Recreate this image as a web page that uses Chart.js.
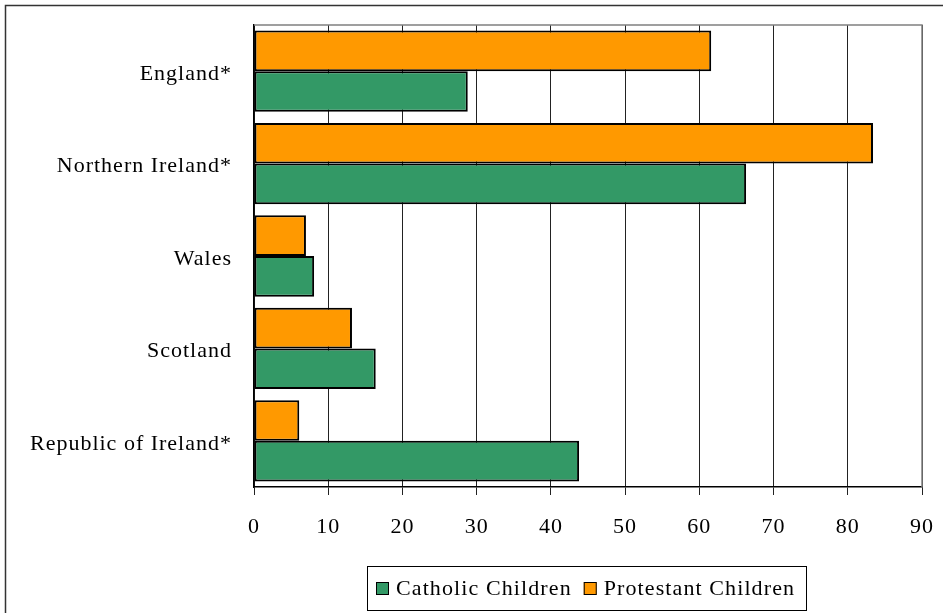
<!DOCTYPE html>
<html>
<head>
<meta charset="utf-8">
<script src="https://cdn.jsdelivr.net/npm/chart.js@4/dist/chart.umd.min.js"></script>
<style>
  html, body { margin: 0; padding: 0; background: #fff; }
  #wrap { width: 943px; height: 613px; position: relative; }
</style>
</head>
<body>
<div id="wrap"><canvas id="chart"></canvas></div>
<script>
// Datos por país (porcentaje)
const paises = ['England*', 'Northern Ireland*', 'Wales', 'Scotland', 'Republic of Ireland*'];
const protestantes = [61.6, 83.4, 7.0, 13.2, 6.1];
const catolicos = [28.8, 66.3, 8.1, 16.4, 43.8];
const ticksX = [0, 10, 20, 30, 40, 50, 60, 70, 80, 90];

const FUENTE = "'Liberation Serif', 'Times New Roman', serif";
const COLORES = { naranja: '#FF9900', verde: '#339966', borde: '#000000' };

// Espaciado de letras tipo Excel (el canvas pierde el estado al redimensionar)
const espaciado = {
    id: 'espaciado',
    beforeUpdate(chart) { chart.ctx.letterSpacing = '1px'; },
    beforeDraw(chart) { chart.ctx.letterSpacing = '1px'; }
};

// Marco exterior, borde superior/derecho del área y leyenda con recuadro
const extras = {
    id: 'extras',
    afterDraw(chart) {
        const ctx = chart.ctx;
        const a = chart.chartArea;
        ctx.save();
        // marco del gráfico
        ctx.strokeStyle = '#333';
        ctx.lineWidth = 1.5;
        ctx.strokeRect(5.5, 5.5, 960, 640);
        // borde gris arriba y derecha del área de trazado
        ctx.strokeStyle = '#808080';
        ctx.lineWidth = 1.5;
        ctx.beginPath();
        ctx.moveTo(a.left, a.top);
        ctx.lineTo(a.right, a.top);
        ctx.lineTo(a.right, a.bottom);
        ctx.stroke();

        // leyenda: Catholic primero, luego Protestant
        const items = [chart.data.datasets[1], chart.data.datasets[0]];
        const lx = 367, ly = 566, lw = 439, lh = 44;
        ctx.strokeStyle = '#000';
        ctx.lineWidth = 1;
        ctx.strokeRect(lx + 0.5, ly + 0.5, lw, lh);
        ctx.font = '22px ' + FUENTE;
        ctx.letterSpacing = '1.1px';
        ctx.textBaseline = 'middle';
        let x = 376;
        const cy = ly + lh / 2 + 1;
        items.forEach(ds => {
            ctx.fillStyle = ds.backgroundColor;
            ctx.fillRect(x, cy - 7, 13, 13);
            ctx.strokeStyle = '#000';
            ctx.strokeRect(x + 0.5, cy - 6.5, 12, 12);
            ctx.fillStyle = '#000';
            ctx.fillText(ds.label, x + 20, cy);
            x += 20 + ctx.measureText(ds.label).width + 12;
        });
        ctx.restore();
    }
};

// Sin relleno automático de las escalas: el área la fija layout.padding
const sinRelleno = s => {
    s.paddingTop = 0; s.paddingBottom = 0;
    s.paddingLeft = 0; s.paddingRight = 0;
};

new Chart(document.getElementById('chart'), {
    type: 'bar',
    data: {
        labels: paises,
        datasets: [
            {
                label: 'Protestant Children',
                data: protestantes,
                backgroundColor: COLORES.naranja,
                borderColor: COLORES.borde,
                borderWidth: 2,
                borderSkipped: false
            },
            {
                label: 'Catholic Children',
                data: catolicos,
                backgroundColor: COLORES.verde,
                borderColor: COLORES.borde,
                borderWidth: 2,
                borderSkipped: false
            }
        ]
    },
    options: {
        indexAxis: 'y',
        responsive: true,
        maintainAspectRatio: false,
        animation: false,
        layout: { padding: { top: 25, right: 21, bottom: 0, left: 10 } },
        datasets: { bar: { categoryPercentage: 0.88, barPercentage: 1.0 } },
        scales: {
            x: {
                min: 0,
                max: 90,
                afterBuildTicks: s => { s.ticks = ticksX.map(v => ({ value: v })); },
                afterFit: s => { s.height = 126; sinRelleno(s); },
                ticks: {
                    color: '#000',
                    padding: 19,
                    font: { family: FUENTE, size: 22 }
                },
                grid: { color: '#222', lineWidth: 1, tickLength: 8 },
                border: { color: '#000', width: 1.5 }
            },
            y: {
                afterFit: s => { s.width = 244; sinRelleno(s); },
                ticks: {
                    color: '#000',
                    padding: 22,
                    labelOffset: 3,
                    font: { family: FUENTE, size: 22 }
                },
                grid: { display: false, drawTicks: false },
                border: { color: '#000', width: 1.5 }
            }
        },
        plugins: {
            legend: { display: false },
            tooltip: { enabled: false }
        }
    },
    plugins: [espaciado, extras]
});
</script>
</body>
</html>
